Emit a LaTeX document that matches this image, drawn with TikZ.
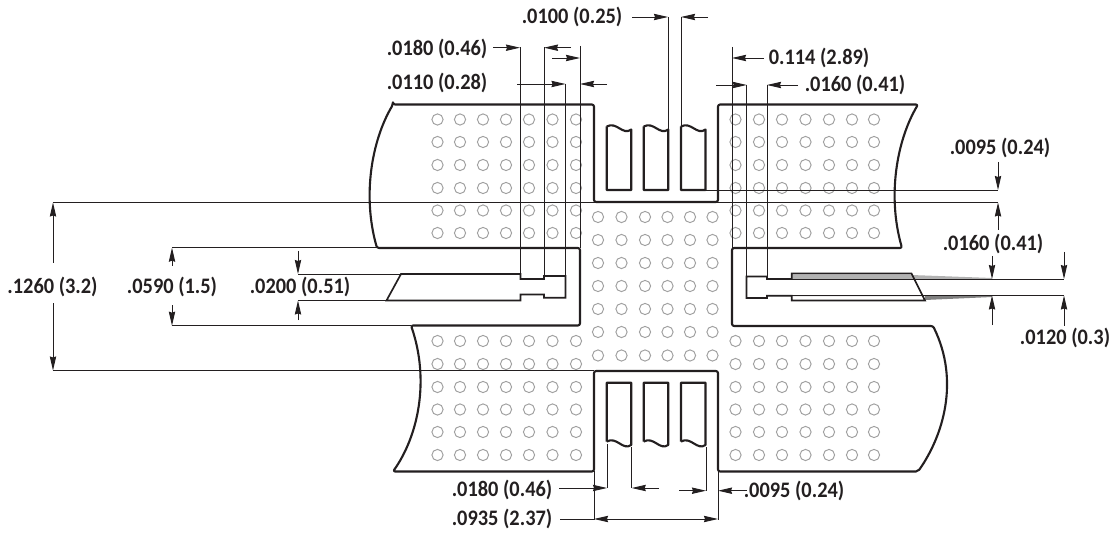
\documentclass[tikz,border=0pt]{standalone}
\usepackage{xcolor}
\usepackage{fontspec}
\usepackage{tikz}
\usetikzlibrary{arrows.meta}
\setmainfont{Carlito}[FakeStretch=0.92]
\definecolor{inkblack}{HTML}{231F20}
\definecolor{viagray}{HTML}{A0A0A0}
\tikzset{
  outline/.style={draw=inkblack,line width=1.2pt,line join=round},
  leadline/.style={draw=inkblack,line width=0.95pt,line join=miter},
  dimline/.style={draw=inkblack,line width=0.55pt},
  dimarrow/.style={dimline,-{Stealth[length=8pt,width=3.6pt,inset=0.6pt]}},
  dimboth/.style={dimline,{Stealth[length=8pt,width=3.6pt,inset=0.6pt]}-{Stealth[length=8pt,width=3.6pt,inset=0.6pt]}},
  via/.style={draw=viagray,line width=0.55pt},
  dimlabel/.style={text=inkblack,inner sep=0pt,font=\bfseries\fontsize{12.6}{14}\selectfont}
}
\begin{document}
\begin{tikzpicture}[x=0.02cm,y=-0.02cm]
\useasboundingbox (0,0) rectangle (1111,533);
% vias
\foreach \x in {437.5,460,483,506,529,552.5,576,735.5,759,782,805.5,829,852,874}
  \foreach \y in {119.5,142,165,188,210.5,233,341,364,387,409.5,432,455}
    \draw[via] (\x,\y) circle (5.6);
\foreach \x in {598,621.5,645,667.5,690,712.5}
  \foreach \y in {217,240,263,286,309,332,355.5}
    \draw[via] (\x,\y) circle (5.6);
% copper outline
\draw[outline,rounded corners=1.2pt] (393,104.5) -- (594,104.5) -- (594,202) -- (718,202) -- (718,104.5) -- (918,104.5)
  .. controls (897,140) and (887,195) .. (902,248) -- (732,248) -- (732,326) -- (933,326)
  .. controls (960,381) and (943,436) .. (918,471.5) -- (718,471.5) -- (718,371) -- (594,371) -- (594,471.5) -- (393,471.5)
  .. controls (418,436) and (430,381) .. (411,325.5) -- (580,325.5) -- (580,248) -- (377,248)
  .. controls (362,195) and (372,140) .. (393,104.5) -- cycle;
% top and bottom leads
\foreach \x in {606.7,643.7,681}{
  \draw[outline] (\x,126.5) -- (\x,190) -- (\x+24.5,190) -- (\x+24.5,129.5)
    .. controls (\x+16,136) and (\x+10,121) .. (\x,126.5);
  \draw[outline] (\x,441.5) -- (\x,382.7) -- (\x+24.5,382.7) -- (\x+24.5,445)
    .. controls (\x+16,451) and (\x+10,436) .. (\x,441.5);
}
% left lead
\draw[leadline] (401,274) -- (520.5,274) -- (520.5,279) -- (544,279) -- (544,276) -- (565.5,276) -- (565.5,297.7) -- (544,297.7) -- (544,294.5) -- (520.5,294.5) -- (520.5,300.5) -- (386.5,300.5) -- cycle;
% right lead
\fill[gray!60] (792,275) -- (911.5,275) -- (992,278) -- (992,279) -- (792,279) -- cycle;
\fill[gray] (768,296) -- (925,296) -- (925,300) -- (992,297) -- (992,296) -- (768,296) -- cycle;
\draw[leadline] (746.5,276.5) -- (767,276.5) -- (767,279) -- (791.7,279) -- (791.7,273.5) -- (911.5,273.5) -- (925,300.5) -- (791.7,300.5) -- (791.7,295.7) -- (767,295.7) -- (767,298) -- (746.5,298) -- cycle;
% extension lines
\foreach \x/\ya/\yb in {520/47.5/274,544/47.5/276,565.5/84/276,580/46/248,668/17/130,681/17/126,732/47/248,746.7/85/276,767/85/279}
  \draw[dimline] (\x,\ya) -- (\x,\yb);
\foreach \ya/\xa/\xb in {202.5/53/998,370.5/53/594,247.7/172/377,325.7/172/411,274/298/401,300.5/298/386.5,190/705/998,279/792/1064,295.5/792/1064}
  \draw[dimline] (\xa,\ya) -- (\xb,\ya);
\foreach \x/\ya/\yb in {594/471/520,718/471/520,607/444/488,631.7/447/488,706/447/491}
  \draw[dimline] (\x,\ya) -- (\x,\yb);
% labels
\node[dimlabel] (dimA) at (572,17) {.0100 (0.25)};
\node[dimlabel] (dimB) at (437,49) {.0180 (0.46)};
\node[dimlabel] (dimC) at (437,83) {.0110 (0.28)};
\node[dimlabel] (dimD) at (819,58) {0.114 (2.89)};
\node[dimlabel] (dimE) at (855,85) {.0160 (0.41)};
\node[dimlabel] (dimF) at (1000,148) {.0095 (0.24)};
\node[dimlabel] (dimG) at (993,244) {.0160 (0.41)};
\node[dimlabel] (dimH) at (1065,338) {.0120 (0.3)};
\node[dimlabel] (dimI) at (52.5,287) {.1260 (3.2)};
\node[dimlabel] (dimJ) at (172,287) {.0590 (1.5)};
\node[dimlabel] (dimK) at (300,287) {.0200 (0.51)};
\node[dimlabel] (dimL) at (502,490) {.0180 (0.46)};
\node[dimlabel] (dimM) at (502,519) {.0935 (2.37)};
\node[dimlabel] (dimN) at (794,491) {.0095 (0.24)};
% dimension arrows
\foreach \xa/\ya/\xb/\yb in {632/17/668/17,708/17/681/17,493/47.7/520/47.7,571/47.7/544/47.7,552/58/580/58,517/84/565.5/84,607/84/580/84,764/58/732/58,716/85/746.7/85,798/85/767/85,998/162/998/190,998/230/998/202.5,992/256/992/279,992/325/992/295.5,1064/252/1064/279,1064/325.5/1064/295.5,53/263/53/202.5,53/303/53/370.5,172/266/172/247.7,172/305/172/325.7,298/251/298/274,298/320/298/300.5,559/488/607/488,659/488/631.7/488,679/490.7/706/490.7,747/490.7/718/490.7}
  \draw[dimarrow] (\xa,\ya) -- (\xb,\yb);
\draw[dimboth] (594,519) -- (718,519);
\draw[dimline] (560,519) -- (594,519);
\end{tikzpicture}
\end{document}
